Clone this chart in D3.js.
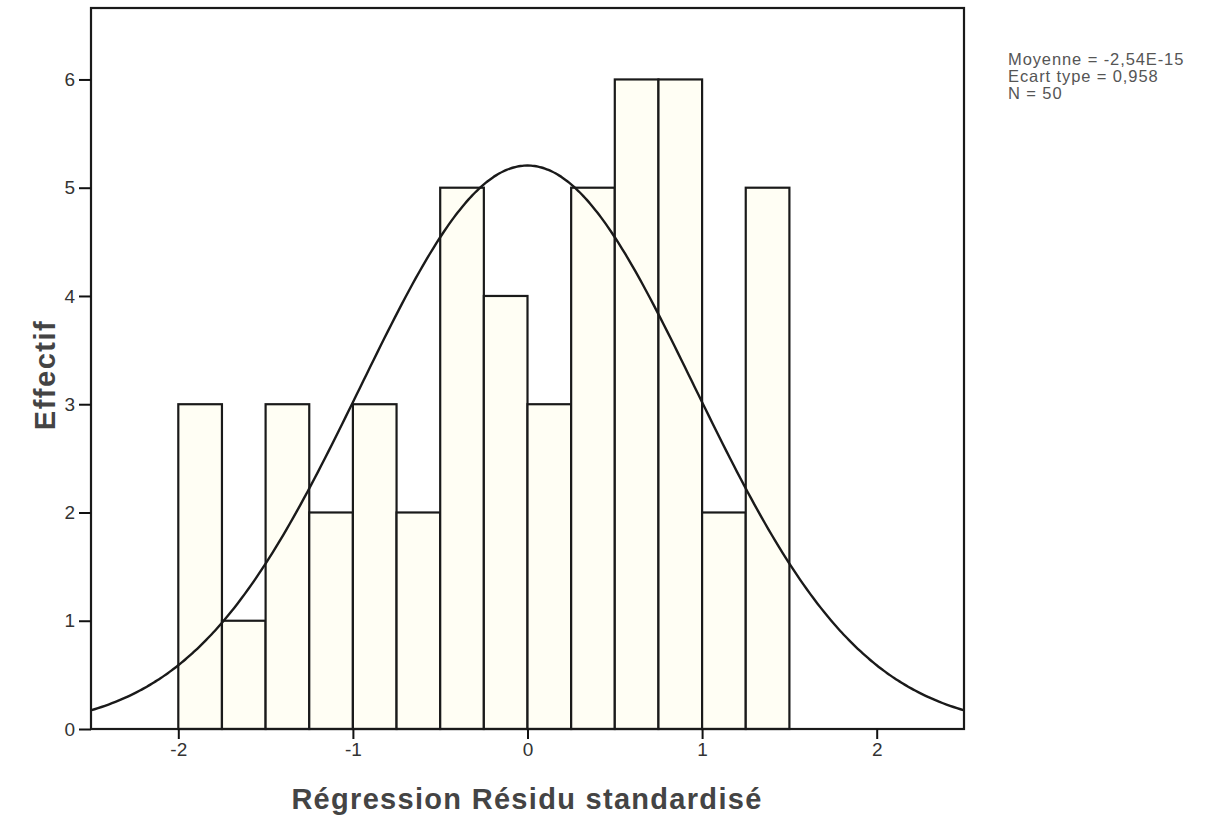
<!DOCTYPE html>
<html>
<head>
<meta charset="utf-8">
<script src="https://cdn.jsdelivr.net/npm/d3@7"></script>
<style>
  body { margin: 0; background: #fff; }
  svg { font-family: "Liberation Sans", Arial, sans-serif; }
  .tick text { fill: #333; font-size: 19px; }
  .tick line { stroke: #111; stroke-width: 2; }
</style>
</head>
<body>
<svg id="chart" width="1212" height="820"></svg>
<script>
  // bins of width 0.25 (lower edges) and their counts
  const binStarts = [-2, -1.75, -1.5, -1.25, -1, -0.75, -0.5, -0.25, 0, 0.25, 0.5, 0.75, 1, 1.25];
  const counts    = [ 3,  1,     3,    2,     3,  2,     5,    4,     3, 5,    6,   6,    2, 5];
  const binWidth = 0.25;

  const xTicks = [-2, -1, 0, 1, 2];
  const yTicks = [0, 1, 2, 3, 4, 5, 6];

  const statsLines = ["Moyenne = -2,54E-15", "Ecart type = 0,958", "N = 50"];
  const mean = 0, sd = 0.958, n = 50;

  const plotLeft = 91, plotRight = 964, plotTop = 8, plotBottom = 729;

  const x = d3.scaleLinear().domain([-2.5, 2.5]).range([plotLeft, plotRight]);
  const y = d3.scaleLinear().domain([0, 6.66]).range([plotBottom, plotTop]);

  const svg = d3.select("#chart");

  // bars
  svg.append("g")
    .selectAll("rect")
    .data(binStarts)
    .enter()
    .append("rect")
    .attr("x", d => x(d))
    .attr("width", d => x(d + binWidth) - x(d))
    .attr("y", (d, i) => y(counts[i]))
    .attr("height", (d, i) => y(0) - y(counts[i]))
    .attr("fill", "#fffef4")
    .attr("stroke", "#1a1a1a")
    .attr("stroke-width", 2.2);

  // normal curve from the stated mean / sd / N
  const xs = d3.range(-2.5, 2.5001, 0.02);
  const curve = d3.line()
    .x(d => x(d))
    .y(d => y(n * binWidth / (sd * Math.sqrt(2 * Math.PI)) * Math.exp(-0.5 * ((d - mean) / sd) ** 2)))
    .curve(d3.curveBasis);
  svg.append("path")
    .datum(xs)
    .attr("d", curve)
    .attr("fill", "none")
    .attr("stroke", "#1a1a1a")
    .attr("stroke-width", 2.4);

  // frame
  svg.append("rect")
    .attr("x", plotLeft).attr("y", plotTop)
    .attr("width", plotRight - plotLeft).attr("height", plotBottom - plotTop)
    .attr("fill", "none").attr("stroke", "#1a1a1a").attr("stroke-width", 2.2);

  // axes (plain hyphen for negatives, like the original)
  const fmt = d => String(d);
  svg.append("g")
    .attr("transform", `translate(0,${plotBottom})`)
    .call(d3.axisBottom(x).tickValues(xTicks).tickSize(10).tickPadding(4).tickFormat(fmt))
    .call(g => g.select(".domain").remove());

  svg.append("g")
    .attr("transform", `translate(${plotLeft},0)`)
    .call(d3.axisLeft(y).tickValues(yTicks).tickSize(12).tickPadding(4).tickFormat(fmt))
    .call(g => g.select(".domain").remove());

  // axis titles
  svg.append("text")
    .attr("x", 527).attr("y", 809)
    .attr("text-anchor", "middle")
    .attr("font-size", 29).attr("font-weight", "bold").attr("fill", "#444")
    .attr("letter-spacing", 1.3)
    .text("Régression Résidu standardisé");

  svg.append("text")
    .attr("transform", "translate(55,375) rotate(-90)")
    .attr("text-anchor", "middle")
    .attr("font-size", 29).attr("font-weight", "bold").attr("fill", "#444")
    .attr("letter-spacing", 1.5)
    .text("Effectif");

  // stats
  svg.append("g")
    .selectAll("text")
    .data(statsLines)
    .enter()
    .append("text")
    .attr("x", 1008)
    .attr("y", (d, i) => 65 + i * 17)
    .attr("font-size", 16.5).attr("fill", "#555")
    .attr("letter-spacing", 0.9)
    .text(d => d);
</script>
</body>
</html>
